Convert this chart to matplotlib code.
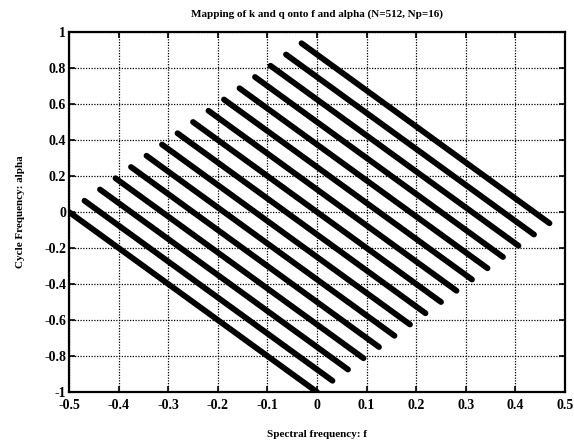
import numpy as np
import matplotlib.pyplot as plt

# Segment endpoints for each strip k (upper-left and lower-right ends)
f_start = [-0.5, -0.46875, -0.4375, -0.40625, -0.375, -0.34375, -0.3125, -0.28125,
           -0.25, -0.21875, -0.1875, -0.15625, -0.125, -0.09375, -0.0625, -0.03125]
alpha_start = [0.0, 0.0625, 0.125, 0.1875, 0.25, 0.3125, 0.375, 0.4375,
               0.5, 0.5625, 0.625, 0.6875, 0.75, 0.8125, 0.875, 0.9375]
f_end = [0.0, 0.03125, 0.0625, 0.09375, 0.125, 0.15625, 0.1875, 0.21875,
         0.25, 0.28125, 0.3125, 0.34375, 0.375, 0.40625, 0.4375, 0.46875]
alpha_end = [-1.0, -0.9375, -0.875, -0.8125, -0.75, -0.6875, -0.625, -0.5625,
             -0.5, -0.4375, -0.375, -0.3125, -0.25, -0.1875, -0.125, -0.0625]

xticks = [-0.5, -0.4, -0.3, -0.2, -0.1, 0, 0.1, 0.2, 0.3, 0.4, 0.5]
yticks = [-1, -0.8, -0.6, -0.4, -0.2, 0, 0.2, 0.4, 0.6, 0.8, 1]
xtick_labels = ['-0.5', '-0.4', '-0.3', '-0.2', '-0.1', '0', '0.1', '0.2', '0.3', '0.4', '0.5']
ytick_labels = ['-1', '-0.8', '-0.6', '-0.4', '-0.2', '0', '0.2', '0.4', '0.6', '0.8', '1']

plt.rcParams['font.family'] = 'Liberation Serif'
plt.rcParams['font.weight'] = 'bold'

fig = plt.figure(figsize=(5.74, 4.44), dpi=100)
ax = fig.add_axes([69 / 574, 1 - 392 / 444, (565 - 69) / 574, (392 - 32) / 444])

for x0, y0, x1, y1 in zip(f_start, alpha_start, f_end, alpha_end):
    ax.plot([x0, x1], [y0, y1], color='black', linewidth=4.2, solid_capstyle='round')

ax.set_xlim(-0.5, 0.5)
ax.set_ylim(-1, 1)
ax.set_xticks(xticks)
ax.set_xticklabels(xtick_labels)
ax.set_yticks(yticks)
ax.set_yticklabels(ytick_labels)
ax.tick_params(direction='in', top=True, right=True, length=4, width=1.2,
               labelsize=10)
ax.tick_params(axis='x', pad=5)
ax.tick_params(axis='y', pad=2)
ax.grid(True, color='black', linestyle=(0, (1, 1.2)), linewidth=0.9)
for spine in ax.spines.values():
    spine.set_linewidth(1.6)

ax.set_title('Mapping of k and q onto f and alpha (N=512, Np=16)', fontsize=8,
             fontweight='bold', pad=11)
ax.set_xlabel('Spectral frequency: f', fontsize=8, fontweight='bold', labelpad=13)
ax.set_ylabel('Cycle Frequency: alpha', fontsize=8, fontweight='bold', labelpad=14)

fig.savefig('out.png', dpi=100)
